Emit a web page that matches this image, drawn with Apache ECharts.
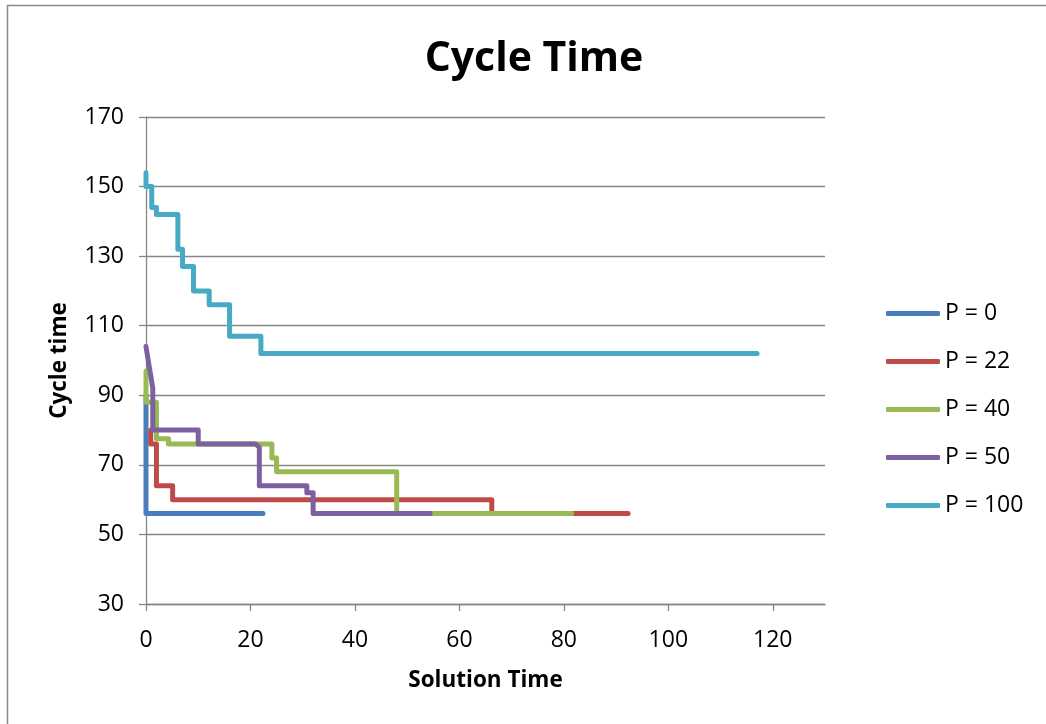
<!DOCTYPE html>
<html>
<head>
<meta charset="utf-8">
<script src="https://cdn.jsdelivr.net/npm/echarts@6/dist/echarts.min.js"></script>
<style>
  html, body { margin: 0; padding: 0; background: #fff; }
  #chart { width: 1046px; height: 724px; }
</style>
</head>
<body>
<div id="chart"></div>
<script>
// Cycle time against solution time for each penalty setting, as [time, cycle] pairs
const seriesNames = ['P = 0', 'P = 22', 'P = 40', 'P = 50', 'P = 100'];
const seriesColors = ['#4A7EBB', '#BE4B48', '#98B954', '#7D60A0', '#46AAC5'];

const p0 = [[0, 90], [0, 56], [22.4, 56]];
const p22 = [[0.9, 80], [0.9, 76], [2, 76], [2, 64], [5.1, 64], [5.1, 60], [66.2, 60], [66.2, 56], [92.3, 56]];
const p40 = [[0, 97], [0, 88], [2, 88], [2, 77.5], [4.3, 77.5], [4.3, 76], [24.1, 76], [24.1, 72], [25, 72], [25, 68],
             [48, 68], [48, 56], [81.5, 56]];
const p50 = [[0, 104], [1.3, 92], [1.3, 80], [10, 80], [10, 76], [21, 76], [21.7, 75], [21.7, 64], [30.8, 64],
             [30.8, 62], [32, 62], [32, 56], [54.4, 56]];
const p100 = [[0, 154], [0, 150], [1.1, 150], [1.1, 144], [2, 144], [2, 142], [6.1, 142], [6.1, 132], [7, 132],
              [7, 127], [9.1, 127], [9.1, 120], [12.1, 120], [12.1, 116], [16, 116], [16, 107], [22, 107],
              [22, 102], [117, 102]];
const seriesData = [p0, p22, p40, p50, p100];

const xTicks = { min: 0, max: 130, step: 20 };
const yTicks = { min: 30, max: 170, step: 20 };

const font = '"Open Sans", sans-serif';
const axisGray = '#868686';

const chart = echarts.init(document.getElementById('chart'), null, { renderer: 'canvas' });

chart.setOption({
  animation: false,
  backgroundColor: '#ffffff',
  title: {
    text: 'Cycle Time',
    left: 529,
    top: 34,
    textAlign: 'center',
    textStyle: { fontFamily: font, fontWeight: 'bold', fontSize: 41, color: '#000' }
  },
  graphic: [{
    type: 'rect',
    shape: { x: 7.5, y: 5.5, width: 1200, height: 900 },
    style: { fill: 'none', stroke: '#8a8a8a', lineWidth: 1.5 },
    silent: true
  }],
  grid: { left: 146, right: 221, top: 117, bottom: 120 },
  legend: {
    orient: 'vertical',
    left: 881,
    top: 297,
    itemWidth: 54,
    itemHeight: 5,
    itemGap: 25,
    icon: 'roundRect',
    textStyle: { fontFamily: font, fontSize: 23, color: '#000' },
    data: seriesNames
  },
  xAxis: {
    type: 'value',
    min: xTicks.min,
    max: xTicks.max,
    interval: xTicks.step,
    name: 'Solution Time',
    nameLocation: 'middle',
    nameGap: 65,
    nameTextStyle: { fontFamily: font, fontWeight: 'bold', fontSize: 22.5, color: '#000' },
    axisLine: { show: true, lineStyle: { color: axisGray, width: 1.3 } },
    axisTick: { show: true, inside: false, length: 7, lineStyle: { color: axisGray, width: 1.3 } },
    axisLabel: {
      showMaxLabel: false,
      margin: 25,
      fontFamily: font, fontSize: 23, color: '#000'
    },
    splitLine: { show: false }
  },
  yAxis: {
    type: 'value',
    min: yTicks.min,
    max: yTicks.max,
    interval: yTicks.step,
    name: 'Cycle time',
    nameLocation: 'middle',
    nameGap: 75,
    nameRotate: 90,
    nameTextStyle: { fontFamily: font, fontWeight: 'bold', fontSize: 22.5, color: '#000' },
    axisLine: { show: true, onZero: false, lineStyle: { color: axisGray, width: 1.3 } },
    axisTick: { show: true, inside: false, length: 7, lineStyle: { color: axisGray, width: 1.3 } },
    axisLabel: { margin: 22, fontFamily: font, fontSize: 23, color: '#000' },
    splitLine: { show: true, lineStyle: { color: axisGray, width: 1.3 } }
  },
  series: seriesData.map((d, i) => ({
    name: seriesNames[i],
    type: 'line',
    data: d,
    showSymbol: false,
    symbol: 'none',
    color: seriesColors[i],
    lineStyle: { width: 5, color: seriesColors[i], cap: 'round', join: 'round' },
    z: 2 + i
  }))
});
</script>
</body>
</html>
